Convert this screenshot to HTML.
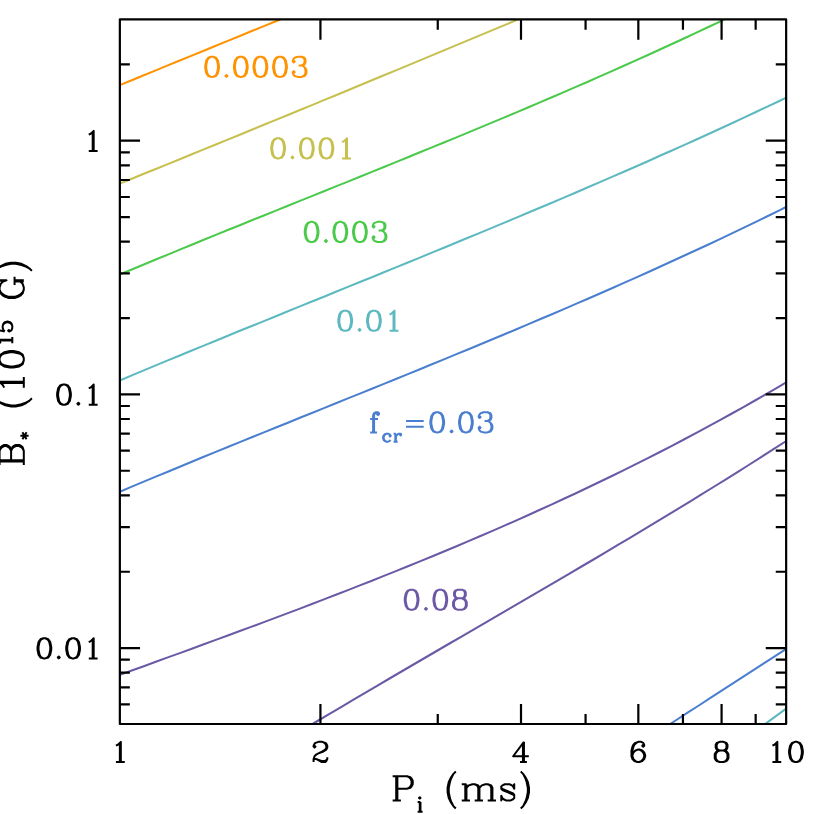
<!DOCTYPE html><html><head><meta charset="utf-8"><title>f_cr contours</title><style>html,body{margin:0;padding:0;background:#fff;font-family:"Liberation Sans",sans-serif}svg{display:block}</style></head><body><svg width="830" height="814" viewBox="0 0 830 814"><rect width="830" height="814" fill="#fff"/><defs><clipPath id="c"><rect x="119.85" y="19.35" width="666.30" height="704.65"/></clipPath></defs><g fill="none" stroke-linecap="round" stroke-linejoin="round" clip-path="url(#c)"><polyline points="119.8,85.1 131.8,80.2 143.8,75.3 155.8,70.4 167.8,65.4 179.8,60.5 191.8,55.6 203.8,50.7 215.8,45.8 227.8,40.9 239.8,36.0 251.8,31.0 263.9,26.1 275.9,21.2 286.0,17.1" stroke="#FF9200" stroke-width="2.05"/><polyline points="119.8,183.6 131.8,178.7 143.8,173.8 155.8,169.0 167.8,164.1 179.8,159.2 191.8,154.3 203.8,149.4 215.8,144.5 227.8,139.6 239.8,134.7 251.8,129.7 263.9,124.8 275.9,119.9 287.9,115.0 299.9,110.0 311.9,105.1 323.9,100.1 335.9,95.2 347.9,90.2 359.9,85.3 371.9,80.3 383.9,75.3 395.9,70.4 407.9,65.4 419.9,60.4 431.9,55.4 443.9,50.4 455.9,45.4 467.9,40.4 479.9,35.4 491.9,30.4 503.9,25.4 515.9,20.4 524.4,16.8" stroke="#C6C04E" stroke-width="2.05"/><polyline points="119.8,274.5 131.8,269.5 143.8,264.5 155.8,259.5 167.8,254.6 179.8,249.6 191.8,244.7 203.8,239.8 215.8,234.9 227.8,230.0 239.8,225.2 251.8,220.3 263.9,215.5 275.9,210.6 287.9,205.8 299.9,200.9 311.9,196.1 323.9,191.2 335.9,186.4 347.9,181.6 359.9,176.7 371.9,171.9 383.9,167.0 395.9,162.1 407.9,157.2 419.9,152.3 431.9,147.4 443.9,142.5 455.9,137.6 467.9,132.6 479.9,127.6 491.9,122.6 503.9,117.6 515.9,112.6 527.9,107.5 539.9,102.4 551.9,97.2 563.9,92.1 575.9,86.9 587.9,81.7 599.9,76.4 611.9,71.1 623.9,65.8 635.9,60.4 647.9,55.0 659.9,49.5 671.9,44.0 683.9,38.5 695.9,32.9 707.9,27.2 719.9,21.6 724.9,19.2" stroke="#4AC94A" stroke-width="2.05"/><polyline points="119.8,380.5 131.8,375.4 143.8,370.4 155.8,365.4 167.8,360.4 179.8,355.5 191.8,350.5 203.8,345.6 215.8,340.7 227.8,335.8 239.8,330.8 251.8,326.0 263.9,321.1 275.9,316.2 287.9,311.3 299.9,306.4 311.9,301.5 323.9,296.7 335.9,291.8 347.9,286.9 359.9,282.0 371.9,277.2 383.9,272.3 395.9,267.4 407.9,262.5 419.9,257.6 431.9,252.6 443.9,247.7 455.9,242.8 467.9,237.8 479.9,232.9 491.9,227.9 503.9,222.9 515.9,217.9 527.9,212.8 539.9,207.8 551.9,202.7 563.9,197.6 575.9,192.5 587.9,187.3 599.9,182.1 611.9,176.9 623.9,171.7 635.9,166.5 647.9,161.2 659.9,155.8 671.9,150.5 683.9,145.1 695.9,139.7 707.9,134.2 719.9,128.7 731.9,123.2 743.9,117.6 755.9,112.0 767.9,106.4 779.9,100.7 786.1,97.6" stroke="#5CB9BF" stroke-width="2.05"/><polyline points="119.8,491.7 131.8,486.6 143.8,481.6 155.8,476.6 167.8,471.7 179.8,466.7 191.8,461.8 203.8,456.8 215.8,451.9 227.8,447.0 239.8,442.1 251.8,437.3 263.9,432.4 275.9,427.5 287.9,422.7 299.9,417.8 311.9,413.0 323.9,408.1 335.9,403.3 347.9,398.4 359.9,393.6 371.9,388.7 383.9,383.9 395.9,379.0 407.9,374.1 419.9,369.2 431.9,364.3 443.9,359.4 455.9,354.4 467.9,349.5 479.9,344.5 491.9,339.5 503.9,334.5 515.9,329.5 527.9,324.4 539.9,319.3 551.9,314.2 563.9,309.1 575.9,303.9 587.9,298.7 599.9,293.5 611.9,288.2 623.9,282.9 635.9,277.6 647.9,272.2 659.9,266.8 671.9,261.3 683.9,255.8 695.9,250.3 707.9,244.7 719.9,239.1 731.9,233.4 743.9,227.6 755.9,221.9 767.9,216.0 779.9,210.1 786.1,207.0" stroke="#4A7FD0" stroke-width="2.05"/><polyline points="119.8,674.9 131.8,670.5 143.8,666.2 155.8,661.8 167.8,657.4 179.8,653.1 191.8,648.7 203.8,644.3 215.8,639.9 227.8,635.5 239.8,631.0 251.8,626.6 263.9,622.1 275.9,617.6 287.9,613.1 299.9,608.6 311.9,604.0 323.9,599.4 335.9,594.8 347.9,590.1 359.9,585.4 371.9,580.7 383.9,575.9 395.9,571.1 407.9,566.3 419.9,561.4 431.9,556.5 443.9,551.5 455.9,546.5 467.9,541.4 479.9,536.3 491.9,531.1 503.9,525.9 515.9,520.6 527.9,515.2 539.9,509.8 551.9,504.4 563.9,498.8 575.9,493.2 587.9,487.5 599.9,481.8 611.9,476.0 623.9,470.1 635.9,464.1 647.9,458.1 659.9,452.0 671.9,445.8 683.9,439.5 695.9,433.1 707.9,426.7 719.9,420.1 731.9,413.5 743.9,406.8 755.9,400.0 767.9,393.1 779.9,386.1 786.1,382.3" stroke="#6B59A6" stroke-width="2.05"/><polyline points="305.5,728.2 317.5,721.0 329.5,713.9 341.5,706.8 353.5,699.7 365.5,692.6 377.5,685.6 389.5,678.5 401.5,671.5 413.5,664.5 425.5,657.5 437.5,650.5 449.5,643.5 461.5,636.6 473.5,629.6 485.5,622.6 497.5,615.6 509.5,608.7 521.5,601.7 533.5,594.7 545.5,587.7 557.5,580.6 569.5,573.6 581.5,566.5 593.5,559.5 605.5,552.4 617.5,545.2 629.5,538.1 641.5,530.9 653.5,523.7 665.5,516.4 677.5,509.1 689.5,501.8 701.5,494.4 713.5,487.0 725.5,479.6 737.5,472.1 749.5,464.5 761.5,456.9 773.5,449.2 785.5,441.5 786.1,441.1" stroke="#6B59A6" stroke-width="2.05"/><polyline points="663.6,728.3 675.6,720.5 687.6,712.7 699.6,705.0 711.6,697.2 723.6,689.4 735.6,681.6 747.6,673.9 759.6,666.1 771.6,658.3 783.6,650.6 786.1,648.9" stroke="#4A7FD0" stroke-width="2.05"/><polyline points="758.4,729.0 770.4,720.2 782.4,711.4 786.1,708.6" stroke="#5CB9BF" stroke-width="2.05"/></g><g fill="none" stroke-linecap="round" stroke-linejoin="round"><path transform="translate(110.05 762.00)" d="M5.88 -16.29L7.84 -17.25L10.78 -20.13L10.78 0.00M9.80 -19.17L9.80 0.00M5.88 0.00L14.70 0.00" stroke="#000" stroke-width="2" stroke-linecap="butt"/><path transform="translate(310.63 762.00)" d="M3.92 -16.29L4.90 -15.34L3.92 -14.38L2.94 -15.34L2.94 -16.29L3.92 -18.21L4.90 -19.17L7.84 -20.13L11.76 -20.13L14.70 -19.17L15.68 -18.21L16.66 -16.29L16.66 -14.38L15.68 -12.46L12.74 -10.54L7.84 -8.63L5.88 -7.67L3.92 -5.75L2.94 -2.88L2.94 0.00M11.76 -20.13L13.72 -19.17L14.70 -18.21L15.68 -16.29L15.68 -14.38L14.70 -12.46L11.76 -10.54L7.84 -8.63M2.94 -1.92L3.92 -2.88L5.88 -2.88L10.78 -0.96L13.72 -0.96L15.68 -1.92L16.66 -2.88M5.88 -2.88L10.78 0.00L14.70 0.00L15.68 -0.96L16.66 -2.88L16.66 -4.79" stroke="#000" stroke-width="2" stroke-linecap="butt"/><path transform="translate(511.20 762.00)" d="M11.76 -18.21L11.76 0.00M12.74 -20.13L12.74 0.00M12.74 -20.13L1.96 -5.75L17.64 -5.75M8.82 0.00L15.68 0.00" stroke="#000" stroke-width="2" stroke-linecap="butt"/><path transform="translate(628.53 762.00)" d="M14.70 -17.25L13.72 -16.29L14.70 -15.34L15.68 -16.29L15.68 -17.25L14.70 -19.17L12.74 -20.13L9.80 -20.13L6.86 -19.17L4.90 -17.25L3.92 -15.34L2.94 -11.50L2.94 -5.75L3.92 -2.88L5.88 -0.96L8.82 0.00L10.78 0.00L13.72 -0.96L15.68 -2.88L16.66 -5.75L16.66 -6.71L15.68 -9.58L13.72 -11.50L10.78 -12.46L9.80 -12.46L6.86 -11.50L4.90 -9.58L3.92 -6.71M9.80 -20.13L7.84 -19.17L5.88 -17.25L4.90 -15.34L3.92 -11.50L3.92 -5.75L4.90 -2.88L6.86 -0.96L8.82 0.00M10.78 0.00L12.74 -0.96L14.70 -2.88L15.68 -5.75L15.68 -6.71L14.70 -9.58L12.74 -11.50L10.78 -12.46" stroke="#000" stroke-width="2" stroke-linecap="butt"/><path transform="translate(711.78 762.00)" d="M7.84 -20.13L4.90 -19.17L3.92 -17.25L3.92 -14.38L4.90 -12.46L7.84 -11.50L11.76 -11.50L14.70 -12.46L15.68 -14.38L15.68 -17.25L14.70 -19.17L11.76 -20.13ZM7.84 -20.13L5.88 -19.17L4.90 -17.25L4.90 -14.38L5.88 -12.46L7.84 -11.50M11.76 -11.50L13.72 -12.46L14.70 -14.38L14.70 -17.25L13.72 -19.17L11.76 -20.13M7.84 -11.50L4.90 -10.54L3.92 -9.58L2.94 -7.67L2.94 -3.83L3.92 -1.92L4.90 -0.96L7.84 0.00L11.76 0.00L14.70 -0.96L15.68 -1.92L16.66 -3.83L16.66 -7.67L15.68 -9.58L14.70 -10.54L11.76 -11.50M7.84 -11.50L5.88 -10.54L4.90 -9.58L3.92 -7.67L3.92 -3.83L4.90 -1.92L5.88 -0.96L7.84 0.00M11.76 0.00L13.72 -0.96L14.70 -1.92L15.68 -3.83L15.68 -7.67L14.70 -9.58L13.72 -10.54L11.76 -11.50" stroke="#000" stroke-width="2" stroke-linecap="butt"/><path transform="translate(766.55 762.00)" d="M5.88 -16.29L7.84 -17.25L10.78 -20.13L10.78 0.00M9.80 -19.17L9.80 0.00M5.88 0.00L14.70 0.00M28.42 -20.13L25.48 -19.17L23.52 -16.29L22.54 -11.50L22.54 -8.63L23.52 -3.83L25.48 -0.96L28.42 0.00L30.38 0.00L33.32 -0.96L35.28 -3.83L36.26 -8.63L36.26 -11.50L35.28 -16.29L33.32 -19.17L30.38 -20.13ZM28.42 -20.13L26.46 -19.17L25.48 -18.21L24.50 -16.29L23.52 -11.50L23.52 -8.63L24.50 -3.83L25.48 -1.92L26.46 -0.96L28.42 0.00M30.38 0.00L32.34 -0.96L33.32 -1.92L34.30 -3.83L35.28 -8.63L35.28 -11.50L34.30 -16.29L33.32 -18.21L32.34 -19.17L30.38 -20.13" stroke="#000" stroke-width="2" stroke-linecap="butt"/><path transform="translate(82.90 151.00)" d="M5.88 -16.29L7.84 -17.25L10.78 -20.13L10.78 0.00M9.80 -19.17L9.80 0.00M5.88 0.00L14.70 0.00" stroke="#000" stroke-width="2" stroke-linecap="butt"/><path transform="translate(54.19 404.70)" d="M8.82 -20.13L5.88 -19.17L3.92 -16.29L2.94 -11.50L2.94 -8.63L3.92 -3.83L5.88 -0.96L8.82 0.00L10.78 0.00L13.72 -0.96L15.68 -3.83L16.66 -8.63L16.66 -11.50L15.68 -16.29L13.72 -19.17L10.78 -20.13ZM8.82 -20.13L6.86 -19.17L5.88 -18.21L4.90 -16.29L3.92 -11.50L3.92 -8.63L4.90 -3.83L5.88 -1.92L6.86 -0.96L8.82 0.00M10.78 0.00L12.74 -0.96L13.72 -1.92L14.70 -3.83L15.68 -8.63L15.68 -11.50L14.70 -16.29L13.72 -18.21L12.74 -19.17L10.78 -20.13M24.16 -1.92L23.18 -0.96L24.16 0.00L25.14 -0.96ZM34.59 -16.29L36.55 -17.25L39.49 -20.13L39.49 0.00M38.51 -19.17L38.51 0.00M34.59 0.00L43.41 0.00" stroke="#000" stroke-width="2" stroke-linecap="butt"/><path transform="translate(34.59 658.40)" d="M8.82 -20.13L5.88 -19.17L3.92 -16.29L2.94 -11.50L2.94 -8.63L3.92 -3.83L5.88 -0.96L8.82 0.00L10.78 0.00L13.72 -0.96L15.68 -3.83L16.66 -8.63L16.66 -11.50L15.68 -16.29L13.72 -19.17L10.78 -20.13ZM8.82 -20.13L6.86 -19.17L5.88 -18.21L4.90 -16.29L3.92 -11.50L3.92 -8.63L4.90 -3.83L5.88 -1.92L6.86 -0.96L8.82 0.00M10.78 0.00L12.74 -0.96L13.72 -1.92L14.70 -3.83L15.68 -8.63L15.68 -11.50L14.70 -16.29L13.72 -18.21L12.74 -19.17L10.78 -20.13M24.16 -1.92L23.18 -0.96L24.16 0.00L25.14 -0.96ZM37.53 -20.13L34.59 -19.17L32.63 -16.29L31.65 -11.50L31.65 -8.63L32.63 -3.83L34.59 -0.96L37.53 0.00L39.49 0.00L42.43 -0.96L44.39 -3.83L45.37 -8.63L45.37 -11.50L44.39 -16.29L42.43 -19.17L39.49 -20.13ZM37.53 -20.13L35.57 -19.17L34.59 -18.21L33.61 -16.29L32.63 -11.50L32.63 -8.63L33.61 -3.83L34.59 -1.92L35.57 -0.96L37.53 0.00M39.49 0.00L41.45 -0.96L42.43 -1.92L43.41 -3.83L44.39 -8.63L44.39 -11.50L43.41 -16.29L42.43 -18.21L41.45 -19.17L39.49 -20.13M54.19 -16.29L56.15 -17.25L59.09 -20.13L59.09 0.00M58.11 -19.17L58.11 0.00M54.19 0.00L63.01 0.00" stroke="#000" stroke-width="2" stroke-linecap="butt"/><path transform="translate(390.30 800.40)" d="M5.90 -24.23L5.90 0.00M7.08 -24.23L7.08 0.00M2.36 -24.23L16.52 -24.23L20.06 -23.08L21.24 -21.93L22.42 -19.62L22.42 -16.16L21.24 -13.85L20.06 -12.69L16.52 -11.54L7.08 -11.54M16.52 -24.23L18.88 -23.08L20.06 -21.93L21.24 -19.62L21.24 -16.16L20.06 -13.85L18.88 -12.69L16.52 -11.54M2.36 0.00L10.62 0.00M29.47 -3.12L28.77 -2.43L29.47 -1.75L30.17 -2.43ZM29.47 1.69L29.47 11.30M30.17 1.69L30.17 11.30M27.36 1.69L30.17 1.69M27.36 11.30L32.28 11.30M65.54 -28.85L63.18 -26.54L60.82 -23.08L58.46 -18.46L57.28 -12.69L57.28 -8.08L58.46 -2.31L60.82 2.31L63.18 5.77L65.54 8.08M63.18 -26.54L60.82 -21.93L59.64 -18.46L58.46 -12.69L58.46 -8.08L59.64 -2.31L60.82 1.15L63.18 5.77M74.98 -16.16L74.98 0.00M76.16 -16.16L76.16 0.00M76.16 -12.69L78.52 -15.00L82.06 -16.16L84.42 -16.16L87.96 -15.00L89.14 -12.69L89.14 0.00M84.42 -16.16L86.78 -15.00L87.96 -12.69L87.96 0.00M89.14 -12.69L91.50 -15.00L95.04 -16.16L97.40 -16.16L100.94 -15.00L102.12 -12.69L102.12 0.00M97.40 -16.16L99.76 -15.00L100.94 -12.69L100.94 0.00M71.44 -16.16L76.16 -16.16M71.44 0.00L79.70 0.00M84.42 0.00L92.68 0.00M97.40 0.00L105.66 0.00M122.77 -13.85L123.95 -16.16L123.95 -11.54L122.77 -13.85L121.59 -15.00L119.23 -16.16L114.51 -16.16L112.15 -15.00L110.97 -13.85L110.97 -11.54L112.15 -10.39L114.51 -9.23L120.41 -6.92L122.77 -5.77L123.95 -4.62M110.97 -12.69L112.15 -11.54L114.51 -10.39L120.41 -8.08L122.77 -6.92L123.95 -5.77L123.95 -2.31L122.77 -1.15L120.41 0.00L115.69 0.00L113.33 -1.15L112.15 -2.31L110.97 -4.62L110.97 0.00L112.15 -2.31M130.44 -28.85L132.80 -26.54L135.16 -23.08L137.52 -18.46L138.70 -12.69L138.70 -8.08L137.52 -2.31L135.16 2.31L132.80 5.77L130.44 8.08M132.80 -26.54L135.16 -21.93L136.34 -18.46L137.52 -12.69L137.52 -8.08L136.34 -2.31L135.16 1.15L132.80 5.77" stroke="#000" stroke-width="2" stroke-linecap="butt"/><path transform="translate(23.80 467.35) rotate(-90) translate(0.00 0)" d="M5.90 -24.23L5.90 0.00M7.08 -24.23L7.08 0.00M2.36 -24.23L16.52 -24.23L20.06 -23.08L21.24 -21.93L22.42 -19.62L22.42 -17.31L21.24 -15.00L20.06 -13.85L16.52 -12.69M16.52 -24.23L18.88 -23.08L20.06 -21.93L21.24 -19.62L21.24 -17.31L20.06 -15.00L18.88 -13.85L16.52 -12.69M7.08 -12.69L16.52 -12.69L20.06 -11.54L21.24 -10.39L22.42 -8.08L22.42 -4.62L21.24 -2.31L20.06 -1.15L16.52 0.00L2.36 0.00M16.52 -12.69L18.88 -11.54L20.06 -10.39L21.24 -8.08L21.24 -4.62L20.06 -2.31L18.88 -1.15L16.52 0.00M31.58 -3.42L31.58 4.82M28.07 -1.36L35.09 2.76M35.09 -1.36L28.07 2.76M69.05 -28.85L66.69 -26.54L64.33 -23.08L61.97 -18.46L60.79 -12.69L60.79 -8.08L61.97 -2.31L64.33 2.31L66.69 5.77L69.05 8.08M66.69 -26.54L64.33 -21.93L63.15 -18.46L61.97 -12.69L61.97 -8.08L63.15 -2.31L64.33 1.15L66.69 5.77M79.67 -19.62L82.03 -20.77L85.57 -24.23L85.57 0.00M84.39 -23.08L84.39 0.00M79.67 0.00L90.29 0.00M106.81 -24.23L103.27 -23.08L100.91 -19.62L99.73 -13.85L99.73 -10.39L100.91 -4.62L103.27 -1.15L106.81 0.00L109.17 0.00L112.71 -1.15L115.07 -4.62L116.25 -10.39L116.25 -13.85L115.07 -19.62L112.71 -23.08L109.17 -24.23ZM106.81 -24.23L104.45 -23.08L103.27 -21.93L102.09 -19.62L100.91 -13.85L100.91 -10.39L102.09 -4.62L103.27 -2.31L104.45 -1.15L106.81 0.00M109.17 0.00L111.53 -1.15L112.71 -2.31L113.89 -4.62L115.07 -10.39L115.07 -13.85L113.89 -19.62L112.71 -21.93L111.53 -23.08L109.17 -24.23M124.01 -23.17L125.41 -23.86L127.52 -25.92L127.52 -11.50M126.81 -25.23L126.81 -11.50M124.01 -11.50L130.33 -11.50M137.35 -25.92L135.94 -19.05M135.94 -19.05L137.35 -20.43L139.45 -21.11L141.56 -21.11L143.66 -20.43L145.07 -19.05L145.77 -16.99L145.77 -15.62L145.07 -13.56L143.66 -12.19L141.56 -11.50L139.45 -11.50L137.35 -12.19L136.64 -12.87L135.94 -14.25L135.94 -14.93L136.64 -15.62L137.35 -14.93L136.64 -14.25M141.56 -21.11L142.96 -20.43L144.37 -19.05L145.07 -16.99L145.07 -15.62L144.37 -13.56L142.96 -12.19L141.56 -11.50M137.35 -25.92L144.37 -25.92M137.35 -25.23L140.86 -25.23L144.37 -25.92M185.82 -20.77L187.00 -17.31L187.00 -24.23L185.82 -20.77L183.46 -23.08L179.92 -24.23L177.56 -24.23L174.02 -23.08L171.66 -20.77L170.48 -18.46L169.30 -15.00L169.30 -9.23L170.48 -5.77L171.66 -3.46L174.02 -1.15L177.56 0.00L179.92 0.00L183.46 -1.15L185.82 -3.46M177.56 -24.23L175.20 -23.08L172.84 -20.77L171.66 -18.46L170.48 -15.00L170.48 -9.23L171.66 -5.77L172.84 -3.46L175.20 -1.15L177.56 0.00M185.82 -9.23L185.82 0.00M187.00 -9.23L187.00 0.00M182.28 -9.23L190.54 -9.23M196.44 -28.85L198.80 -26.54L201.16 -23.08L203.52 -18.46L204.70 -12.69L204.70 -8.08L203.52 -2.31L201.16 2.31L198.80 5.77L196.44 8.08M198.80 -26.54L201.16 -21.93L202.34 -18.46L203.52 -12.69L203.52 -8.08L202.34 -2.31L201.16 1.15L198.80 5.77" stroke="#000" stroke-width="2" stroke-linecap="butt"/><path transform="translate(202.30 76.90)" d="M8.82 -20.13L5.88 -19.17L3.92 -16.29L2.94 -11.50L2.94 -8.63L3.92 -3.83L5.88 -0.96L8.82 0.00L10.78 0.00L13.72 -0.96L15.68 -3.83L16.66 -8.63L16.66 -11.50L15.68 -16.29L13.72 -19.17L10.78 -20.13ZM8.82 -20.13L6.86 -19.17L5.88 -18.21L4.90 -16.29L3.92 -11.50L3.92 -8.63L4.90 -3.83L5.88 -1.92L6.86 -0.96L8.82 0.00M10.78 0.00L12.74 -0.96L13.72 -1.92L14.70 -3.83L15.68 -8.63L15.68 -11.50L14.70 -16.29L13.72 -18.21L12.74 -19.17L10.78 -20.13M24.16 -1.92L23.18 -0.96L24.16 0.00L25.14 -0.96ZM37.53 -20.13L34.59 -19.17L32.63 -16.29L31.65 -11.50L31.65 -8.63L32.63 -3.83L34.59 -0.96L37.53 0.00L39.49 0.00L42.43 -0.96L44.39 -3.83L45.37 -8.63L45.37 -11.50L44.39 -16.29L42.43 -19.17L39.49 -20.13ZM37.53 -20.13L35.57 -19.17L34.59 -18.21L33.61 -16.29L32.63 -11.50L32.63 -8.63L33.61 -3.83L34.59 -1.92L35.57 -0.96L37.53 0.00M39.49 0.00L41.45 -0.96L42.43 -1.92L43.41 -3.83L44.39 -8.63L44.39 -11.50L43.41 -16.29L42.43 -18.21L41.45 -19.17L39.49 -20.13M57.13 -20.13L54.19 -19.17L52.23 -16.29L51.25 -11.50L51.25 -8.63L52.23 -3.83L54.19 -0.96L57.13 0.00L59.09 0.00L62.03 -0.96L63.99 -3.83L64.97 -8.63L64.97 -11.50L63.99 -16.29L62.03 -19.17L59.09 -20.13ZM57.13 -20.13L55.17 -19.17L54.19 -18.21L53.21 -16.29L52.23 -11.50L52.23 -8.63L53.21 -3.83L54.19 -1.92L55.17 -0.96L57.13 0.00M59.09 0.00L61.05 -0.96L62.03 -1.92L63.01 -3.83L63.99 -8.63L63.99 -11.50L63.01 -16.29L62.03 -18.21L61.05 -19.17L59.09 -20.13M76.73 -20.13L73.79 -19.17L71.83 -16.29L70.85 -11.50L70.85 -8.63L71.83 -3.83L73.79 -0.96L76.73 0.00L78.69 0.00L81.63 -0.96L83.59 -3.83L84.57 -8.63L84.57 -11.50L83.59 -16.29L81.63 -19.17L78.69 -20.13ZM76.73 -20.13L74.77 -19.17L73.79 -18.21L72.81 -16.29L71.83 -11.50L71.83 -8.63L72.81 -3.83L73.79 -1.92L74.77 -0.96L76.73 0.00M78.69 0.00L80.65 -0.96L81.63 -1.92L82.61 -3.83L83.59 -8.63L83.59 -11.50L82.61 -16.29L81.63 -18.21L80.65 -19.17L78.69 -20.13M91.43 -16.29L92.41 -15.34L91.43 -14.38L90.45 -15.34L90.45 -16.29L91.43 -18.21L92.41 -19.17L95.35 -20.13L99.27 -20.13L102.21 -19.17L103.19 -17.25L103.19 -14.38L102.21 -12.46L99.27 -11.50L96.33 -11.50M99.27 -20.13L101.23 -19.17L102.21 -17.25L102.21 -14.38L101.23 -12.46L99.27 -11.50M99.27 -11.50L101.23 -10.54L103.19 -8.63L104.17 -6.71L104.17 -3.83L103.19 -1.92L102.21 -0.96L99.27 0.00L95.35 0.00L92.41 -0.96L91.43 -1.92L90.45 -3.83L90.45 -4.79L91.43 -5.75L92.41 -4.79L91.43 -3.83M102.21 -9.58L103.19 -6.71L103.19 -3.83L102.21 -1.92L101.23 -0.96L99.27 0.00" stroke="#FF9200" stroke-width="2" stroke-linecap="butt"/><path transform="translate(268.30 158.40)" d="M8.82 -20.13L5.88 -19.17L3.92 -16.29L2.94 -11.50L2.94 -8.63L3.92 -3.83L5.88 -0.96L8.82 0.00L10.78 0.00L13.72 -0.96L15.68 -3.83L16.66 -8.63L16.66 -11.50L15.68 -16.29L13.72 -19.17L10.78 -20.13ZM8.82 -20.13L6.86 -19.17L5.88 -18.21L4.90 -16.29L3.92 -11.50L3.92 -8.63L4.90 -3.83L5.88 -1.92L6.86 -0.96L8.82 0.00M10.78 0.00L12.74 -0.96L13.72 -1.92L14.70 -3.83L15.68 -8.63L15.68 -11.50L14.70 -16.29L13.72 -18.21L12.74 -19.17L10.78 -20.13M24.16 -1.92L23.18 -0.96L24.16 0.00L25.14 -0.96ZM37.53 -20.13L34.59 -19.17L32.63 -16.29L31.65 -11.50L31.65 -8.63L32.63 -3.83L34.59 -0.96L37.53 0.00L39.49 0.00L42.43 -0.96L44.39 -3.83L45.37 -8.63L45.37 -11.50L44.39 -16.29L42.43 -19.17L39.49 -20.13ZM37.53 -20.13L35.57 -19.17L34.59 -18.21L33.61 -16.29L32.63 -11.50L32.63 -8.63L33.61 -3.83L34.59 -1.92L35.57 -0.96L37.53 0.00M39.49 0.00L41.45 -0.96L42.43 -1.92L43.41 -3.83L44.39 -8.63L44.39 -11.50L43.41 -16.29L42.43 -18.21L41.45 -19.17L39.49 -20.13M57.13 -20.13L54.19 -19.17L52.23 -16.29L51.25 -11.50L51.25 -8.63L52.23 -3.83L54.19 -0.96L57.13 0.00L59.09 0.00L62.03 -0.96L63.99 -3.83L64.97 -8.63L64.97 -11.50L63.99 -16.29L62.03 -19.17L59.09 -20.13ZM57.13 -20.13L55.17 -19.17L54.19 -18.21L53.21 -16.29L52.23 -11.50L52.23 -8.63L53.21 -3.83L54.19 -1.92L55.17 -0.96L57.13 0.00M59.09 0.00L61.05 -0.96L62.03 -1.92L63.01 -3.83L63.99 -8.63L63.99 -11.50L63.01 -16.29L62.03 -18.21L61.05 -19.17L59.09 -20.13M73.79 -16.29L75.75 -17.25L78.69 -20.13L78.69 0.00M77.71 -19.17L77.71 0.00M73.79 0.00L82.61 0.00" stroke="#C6C04E" stroke-width="2" stroke-linecap="butt"/><path transform="translate(301.80 242.00)" d="M8.82 -20.13L5.88 -19.17L3.92 -16.29L2.94 -11.50L2.94 -8.63L3.92 -3.83L5.88 -0.96L8.82 0.00L10.78 0.00L13.72 -0.96L15.68 -3.83L16.66 -8.63L16.66 -11.50L15.68 -16.29L13.72 -19.17L10.78 -20.13ZM8.82 -20.13L6.86 -19.17L5.88 -18.21L4.90 -16.29L3.92 -11.50L3.92 -8.63L4.90 -3.83L5.88 -1.92L6.86 -0.96L8.82 0.00M10.78 0.00L12.74 -0.96L13.72 -1.92L14.70 -3.83L15.68 -8.63L15.68 -11.50L14.70 -16.29L13.72 -18.21L12.74 -19.17L10.78 -20.13M24.16 -1.92L23.18 -0.96L24.16 0.00L25.14 -0.96ZM37.53 -20.13L34.59 -19.17L32.63 -16.29L31.65 -11.50L31.65 -8.63L32.63 -3.83L34.59 -0.96L37.53 0.00L39.49 0.00L42.43 -0.96L44.39 -3.83L45.37 -8.63L45.37 -11.50L44.39 -16.29L42.43 -19.17L39.49 -20.13ZM37.53 -20.13L35.57 -19.17L34.59 -18.21L33.61 -16.29L32.63 -11.50L32.63 -8.63L33.61 -3.83L34.59 -1.92L35.57 -0.96L37.53 0.00M39.49 0.00L41.45 -0.96L42.43 -1.92L43.41 -3.83L44.39 -8.63L44.39 -11.50L43.41 -16.29L42.43 -18.21L41.45 -19.17L39.49 -20.13M57.13 -20.13L54.19 -19.17L52.23 -16.29L51.25 -11.50L51.25 -8.63L52.23 -3.83L54.19 -0.96L57.13 0.00L59.09 0.00L62.03 -0.96L63.99 -3.83L64.97 -8.63L64.97 -11.50L63.99 -16.29L62.03 -19.17L59.09 -20.13ZM57.13 -20.13L55.17 -19.17L54.19 -18.21L53.21 -16.29L52.23 -11.50L52.23 -8.63L53.21 -3.83L54.19 -1.92L55.17 -0.96L57.13 0.00M59.09 0.00L61.05 -0.96L62.03 -1.92L63.01 -3.83L63.99 -8.63L63.99 -11.50L63.01 -16.29L62.03 -18.21L61.05 -19.17L59.09 -20.13M71.83 -16.29L72.81 -15.34L71.83 -14.38L70.85 -15.34L70.85 -16.29L71.83 -18.21L72.81 -19.17L75.75 -20.13L79.67 -20.13L82.61 -19.17L83.59 -17.25L83.59 -14.38L82.61 -12.46L79.67 -11.50L76.73 -11.50M79.67 -20.13L81.63 -19.17L82.61 -17.25L82.61 -14.38L81.63 -12.46L79.67 -11.50M79.67 -11.50L81.63 -10.54L83.59 -8.63L84.57 -6.71L84.57 -3.83L83.59 -1.92L82.61 -0.96L79.67 0.00L75.75 0.00L72.81 -0.96L71.83 -1.92L70.85 -3.83L70.85 -4.79L71.83 -5.75L72.81 -4.79L71.83 -3.83M82.61 -9.58L83.59 -6.71L83.59 -3.83L82.61 -1.92L81.63 -0.96L79.67 0.00" stroke="#4AC94A" stroke-width="2" stroke-linecap="butt"/><path transform="translate(335.40 330.80)" d="M8.82 -20.13L5.88 -19.17L3.92 -16.29L2.94 -11.50L2.94 -8.63L3.92 -3.83L5.88 -0.96L8.82 0.00L10.78 0.00L13.72 -0.96L15.68 -3.83L16.66 -8.63L16.66 -11.50L15.68 -16.29L13.72 -19.17L10.78 -20.13ZM8.82 -20.13L6.86 -19.17L5.88 -18.21L4.90 -16.29L3.92 -11.50L3.92 -8.63L4.90 -3.83L5.88 -1.92L6.86 -0.96L8.82 0.00M10.78 0.00L12.74 -0.96L13.72 -1.92L14.70 -3.83L15.68 -8.63L15.68 -11.50L14.70 -16.29L13.72 -18.21L12.74 -19.17L10.78 -20.13M24.16 -1.92L23.18 -0.96L24.16 0.00L25.14 -0.96ZM37.53 -20.13L34.59 -19.17L32.63 -16.29L31.65 -11.50L31.65 -8.63L32.63 -3.83L34.59 -0.96L37.53 0.00L39.49 0.00L42.43 -0.96L44.39 -3.83L45.37 -8.63L45.37 -11.50L44.39 -16.29L42.43 -19.17L39.49 -20.13ZM37.53 -20.13L35.57 -19.17L34.59 -18.21L33.61 -16.29L32.63 -11.50L32.63 -8.63L33.61 -3.83L34.59 -1.92L35.57 -0.96L37.53 0.00M39.49 0.00L41.45 -0.96L42.43 -1.92L43.41 -3.83L44.39 -8.63L44.39 -11.50L43.41 -16.29L42.43 -18.21L41.45 -19.17L39.49 -20.13M54.19 -16.29L56.15 -17.25L59.09 -20.13L59.09 0.00M58.11 -19.17L58.11 0.00M54.19 0.00L63.01 0.00" stroke="#5CB9BF" stroke-width="2" stroke-linecap="butt"/><path transform="translate(368.20 432.40)" d="M9.80 -19.17L8.82 -18.21L9.80 -17.25L10.78 -18.21L10.78 -19.17L9.80 -20.13L7.84 -20.13L5.88 -19.17L4.90 -17.25L4.90 0.00M7.84 -20.13L6.86 -19.17L5.88 -17.25L5.88 0.00M1.96 -13.42L9.80 -13.42M1.96 0.00L8.82 0.00M21.88 3.03L21.30 3.60L21.88 4.17L22.46 3.60L22.46 3.03L21.30 1.89L20.13 1.32L18.38 1.32L16.63 1.89L15.46 3.03L14.88 4.74L14.88 5.88L15.46 7.59L16.63 8.73L18.38 9.30L19.55 9.30L21.30 8.73L22.46 7.59M18.38 1.32L17.21 1.89L16.05 3.03L15.46 4.74L15.46 5.88L16.05 7.59L17.21 8.73L18.38 9.30M27.13 1.32L27.13 9.30M27.71 1.32L27.71 9.30M27.71 4.74L28.29 3.03L29.46 1.89L30.62 1.32L32.37 1.32L32.96 1.89L32.96 2.46L32.37 3.03L31.79 2.46L32.37 1.89M25.38 1.32L27.71 1.32M25.38 9.30L29.46 9.30M37.85 -11.50L55.49 -11.50M37.85 -5.75L55.49 -5.75M68.03 -20.13L65.09 -19.17L63.13 -16.29L62.15 -11.50L62.15 -8.63L63.13 -3.83L65.09 -0.96L68.03 0.00L69.99 0.00L72.93 -0.96L74.89 -3.83L75.87 -8.63L75.87 -11.50L74.89 -16.29L72.93 -19.17L69.99 -20.13ZM68.03 -20.13L66.07 -19.17L65.09 -18.21L64.11 -16.29L63.13 -11.50L63.13 -8.63L64.11 -3.83L65.09 -1.92L66.07 -0.96L68.03 0.00M69.99 0.00L71.95 -0.96L72.93 -1.92L73.91 -3.83L74.89 -8.63L74.89 -11.50L73.91 -16.29L72.93 -18.21L71.95 -19.17L69.99 -20.13M83.37 -1.92L82.39 -0.96L83.37 0.00L84.35 -0.96ZM96.75 -20.13L93.81 -19.17L91.85 -16.29L90.87 -11.50L90.87 -8.63L91.85 -3.83L93.81 -0.96L96.75 0.00L98.71 0.00L101.65 -0.96L103.61 -3.83L104.59 -8.63L104.59 -11.50L103.61 -16.29L101.65 -19.17L98.71 -20.13ZM96.75 -20.13L94.79 -19.17L93.81 -18.21L92.83 -16.29L91.85 -11.50L91.85 -8.63L92.83 -3.83L93.81 -1.92L94.79 -0.96L96.75 0.00M98.71 0.00L100.67 -0.96L101.65 -1.92L102.63 -3.83L103.61 -8.63L103.61 -11.50L102.63 -16.29L101.65 -18.21L100.67 -19.17L98.71 -20.13M111.45 -16.29L112.43 -15.34L111.45 -14.38L110.47 -15.34L110.47 -16.29L111.45 -18.21L112.43 -19.17L115.37 -20.13L119.29 -20.13L122.23 -19.17L123.21 -17.25L123.21 -14.38L122.23 -12.46L119.29 -11.50L116.35 -11.50M119.29 -20.13L121.25 -19.17L122.23 -17.25L122.23 -14.38L121.25 -12.46L119.29 -11.50M119.29 -11.50L121.25 -10.54L123.21 -8.63L124.19 -6.71L124.19 -3.83L123.21 -1.92L122.23 -0.96L119.29 0.00L115.37 0.00L112.43 -0.96L111.45 -1.92L110.47 -3.83L110.47 -4.79L111.45 -5.75L112.43 -4.79L111.45 -3.83M122.23 -9.58L123.21 -6.71L123.21 -3.83L122.23 -1.92L121.25 -0.96L119.29 0.00" stroke="#4A7FD0" stroke-width="2" stroke-linecap="butt"/><path transform="translate(401.80 609.80)" d="M8.82 -20.13L5.88 -19.17L3.92 -16.29L2.94 -11.50L2.94 -8.63L3.92 -3.83L5.88 -0.96L8.82 0.00L10.78 0.00L13.72 -0.96L15.68 -3.83L16.66 -8.63L16.66 -11.50L15.68 -16.29L13.72 -19.17L10.78 -20.13ZM8.82 -20.13L6.86 -19.17L5.88 -18.21L4.90 -16.29L3.92 -11.50L3.92 -8.63L4.90 -3.83L5.88 -1.92L6.86 -0.96L8.82 0.00M10.78 0.00L12.74 -0.96L13.72 -1.92L14.70 -3.83L15.68 -8.63L15.68 -11.50L14.70 -16.29L13.72 -18.21L12.74 -19.17L10.78 -20.13M24.16 -1.92L23.18 -0.96L24.16 0.00L25.14 -0.96ZM37.53 -20.13L34.59 -19.17L32.63 -16.29L31.65 -11.50L31.65 -8.63L32.63 -3.83L34.59 -0.96L37.53 0.00L39.49 0.00L42.43 -0.96L44.39 -3.83L45.37 -8.63L45.37 -11.50L44.39 -16.29L42.43 -19.17L39.49 -20.13ZM37.53 -20.13L35.57 -19.17L34.59 -18.21L33.61 -16.29L32.63 -11.50L32.63 -8.63L33.61 -3.83L34.59 -1.92L35.57 -0.96L37.53 0.00M39.49 0.00L41.45 -0.96L42.43 -1.92L43.41 -3.83L44.39 -8.63L44.39 -11.50L43.41 -16.29L42.43 -18.21L41.45 -19.17L39.49 -20.13M56.15 -20.13L53.21 -19.17L52.23 -17.25L52.23 -14.38L53.21 -12.46L56.15 -11.50L60.07 -11.50L63.01 -12.46L63.99 -14.38L63.99 -17.25L63.01 -19.17L60.07 -20.13ZM56.15 -20.13L54.19 -19.17L53.21 -17.25L53.21 -14.38L54.19 -12.46L56.15 -11.50M60.07 -11.50L62.03 -12.46L63.01 -14.38L63.01 -17.25L62.03 -19.17L60.07 -20.13M56.15 -11.50L53.21 -10.54L52.23 -9.58L51.25 -7.67L51.25 -3.83L52.23 -1.92L53.21 -0.96L56.15 0.00L60.07 0.00L63.01 -0.96L63.99 -1.92L64.97 -3.83L64.97 -7.67L63.99 -9.58L63.01 -10.54L60.07 -11.50M56.15 -11.50L54.19 -10.54L53.21 -9.58L52.23 -7.67L52.23 -3.83L53.21 -1.92L54.19 -0.96L56.15 0.00M60.07 0.00L62.03 -0.96L63.01 -1.92L63.99 -3.83L63.99 -7.67L63.01 -9.58L62.03 -10.54L60.07 -11.50" stroke="#6B59A6" stroke-width="2" stroke-linecap="butt"/></g><rect x="119.85" y="19.35" width="666.30" height="704.65" fill="none" stroke="#000" stroke-width="2.2" stroke-linejoin="round"/><path d="M320.43 19.35v20.50M320.43 724.00v-20.10M437.76 19.35v10.50M437.76 724.00v-10.10M521.00 19.35v20.50M521.00 724.00v-20.10M585.57 19.35v10.50M585.57 724.00v-10.10M638.33 19.35v20.50M638.33 724.00v-20.10M682.94 19.35v10.50M682.94 724.00v-10.10M721.58 19.35v20.50M721.58 724.00v-20.10M755.66 19.35v10.50M755.66 724.00v-10.10M119.85 140.70h20.20M786.15 140.70h-20.40M119.85 64.33h10.00M786.15 64.33h-10.40M119.85 394.40h20.20M786.15 394.40h-20.40M119.85 318.03h10.00M786.15 318.03h-10.40M119.85 273.35h10.00M786.15 273.35h-10.40M119.85 241.66h10.00M786.15 241.66h-10.40M119.85 217.07h10.00M786.15 217.07h-10.40M119.85 196.98h10.00M786.15 196.98h-10.40M119.85 180.00h10.00M786.15 180.00h-10.40M119.85 165.29h10.00M786.15 165.29h-10.40M119.85 152.31h10.00M786.15 152.31h-10.40M119.85 648.10h20.20M786.15 648.10h-20.40M119.85 571.73h10.00M786.15 571.73h-10.40M119.85 527.05h10.00M786.15 527.05h-10.40M119.85 495.36h10.00M786.15 495.36h-10.40M119.85 470.77h10.00M786.15 470.77h-10.40M119.85 450.68h10.00M786.15 450.68h-10.40M119.85 433.70h10.00M786.15 433.70h-10.40M119.85 418.99h10.00M786.15 418.99h-10.40M119.85 406.01h10.00M786.15 406.01h-10.40M119.85 704.38h10.00M786.15 704.38h-10.40M119.85 687.40h10.00M786.15 687.40h-10.40M119.85 672.69h10.00M786.15 672.69h-10.40M119.85 659.71h10.00M786.15 659.71h-10.40" stroke="#000" stroke-width="2.2" stroke-linecap="butt"/></svg></body></html>
